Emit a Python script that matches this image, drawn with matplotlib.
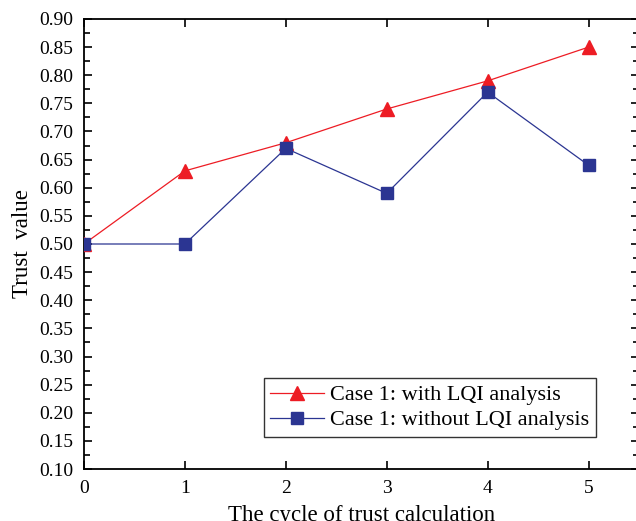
import numpy as np
import matplotlib.pyplot as plt
from matplotlib.ticker import MultipleLocator, FormatStrFormatter

plt.rcParams['font.family'] = ['Liberation Serif', 'DejaVu Serif']

cycles = [0, 1, 2, 3, 4, 5]
with_lqi = [0.50, 0.63, 0.68, 0.74, 0.79, 0.85]
without_lqi = [0.50, 0.50, 0.67, 0.59, 0.77, 0.64]

fig = plt.figure(figsize=(6.36, 5.21), dpi=100)
ax = fig.add_axes([84 / 636, 1 - 469 / 521, 555 / 636, 450 / 521])

ax.plot(cycles, with_lqi, color='#ED1C24', lw=0.9, marker='^', ms=10,
        label='Case 1: with LQI analysis', zorder=3)
ax.plot(cycles, without_lqi, color='#2B3592', lw=0.9, marker='s', ms=8,
        label='Case 1: without LQI analysis', zorder=4)

ax.set_xlim(0, 5.5)
ax.set_ylim(0.10, 0.90)
ax.xaxis.set_major_locator(MultipleLocator(1))
ax.yaxis.set_major_locator(MultipleLocator(0.05))
ax.yaxis.set_minor_locator(MultipleLocator(0.025))
ax.yaxis.set_major_formatter(FormatStrFormatter('%.2f'))
ax.tick_params(which='both', direction='in', top=True, right=True,
               labelsize=14, width=1.2)
ax.tick_params(which='major', length=6, pad=8)
ax.tick_params(which='minor', length=4)
for s in ax.spines.values():
    s.set_linewidth(1.3)

ax.set_xlabel('The cycle of trust calculation', fontsize=16.5, labelpad=6)
ax.set_ylabel('Trust  value', fontsize=16.5, labelpad=4)

leg = ax.legend(loc='lower left', bbox_to_anchor=(0.324, 0.071), fontsize=16,
                frameon=True, fancybox=False, edgecolor='black',
                handlelength=2.4, borderpad=0.3, labelspacing=0.2,
                handletextpad=0.3, borderaxespad=0)
leg.get_frame().set_linewidth(1.0)

fig.savefig('out.png', dpi=100)
